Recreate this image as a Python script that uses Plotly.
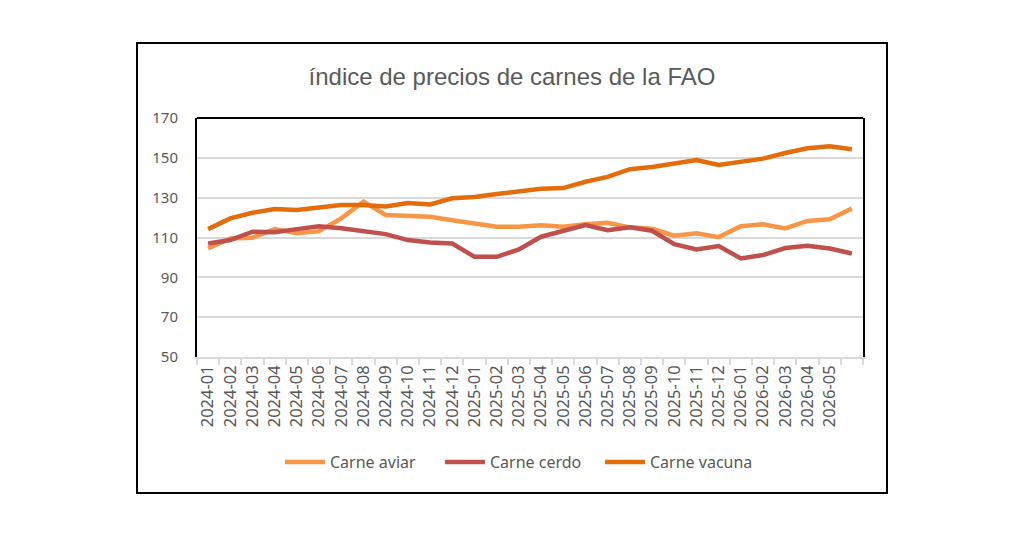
import plotly.graph_objects as go

months = ["2024-01","2024-02","2024-03","2024-04","2024-05","2024-06","2024-07","2024-08","2024-09","2024-10",
          "2024-11","2024-12","2025-01","2025-02","2025-03","2025-04","2025-05","2025-06","2025-07","2025-08",
          "2025-09","2025-10","2025-11","2025-12","2026-01","2026-02","2026-03","2026-04","2026-05","2026-06"]
tick_labels = months[:29]

carne_aviar = [104.5, 109.5, 109.9, 114.2, 112.1, 113.2, 119.6, 128.0, 121.3, 121.1,
               120.4, 118.7, 117.1, 115.4, 115.4, 116.2, 115.4, 116.7, 117.4, 115.1,
               114.4, 110.9, 112.1, 110.2, 115.7, 116.6, 114.6, 118.3, 119.2, 124.6]
carne_cerdo = [107.0, 108.7, 112.9, 112.6, 114.2, 115.7, 114.6, 112.9, 111.7, 108.7,
               107.5, 107.0, 100.3, 100.3, 104.0, 110.4, 113.4, 116.2, 113.7, 115.1,
               113.4, 106.7, 104.0, 105.7, 99.5, 101.2, 104.7, 105.8, 104.5, 102.0]
carne_vacuna = [114.2, 119.6, 122.4, 124.3, 123.8, 124.9, 126.3, 126.3, 125.6, 127.3,
                126.6, 129.7, 130.3, 131.8, 133.3, 134.5, 134.8, 138.0, 140.4, 144.3,
                145.4, 147.1, 148.9, 146.4, 147.9, 149.6, 152.4, 154.8, 155.8, 154.3]

series = [("Carne aviar", carne_aviar, "#F79646"),
          ("Carne cerdo", carne_cerdo, "#C0504D"),
          ("Carne vacuna", carne_vacuna, "#E46C0A")]

x = list(range(len(months)))
fig = go.Figure()
for name, vals, col in series:
    fig.add_trace(go.Scatter(x=x, y=vals, name=name, mode="lines",
                             line=dict(color=col, width=4.5), customdata=months,
                             hovertemplate="%{customdata}: %{y}<extra>" + name + "</extra>"))

fig.update_layout(
    width=1024, height=535,
    paper_bgcolor="white", plot_bgcolor="white",
    margin=dict(l=197, r=161, t=118, b=178),
    title=dict(text="índice de precios de carnes de la FAO", x=0.5, xref="container", xanchor="center",
               y=1 - 77/535, yref="container", yanchor="middle",
               font=dict(family="Liberation Sans Narrow, Arial Narrow, Liberation Sans", size=24, color="#595959")),
    font=dict(family="Noto Sans, Open Sans, sans-serif", color="#595959"),
    showlegend=True,
    legend=dict(orientation="h", x=0.485, xanchor="center", y=-0.44, yanchor="middle",
                font=dict(size=16, color="#595959"), itemwidth=40, bgcolor="rgba(0,0,0,0)",
                entrywidth=105, entrywidthmode="pixels"),
    xaxis=dict(range=[-0.5, 29.5], tickmode="array", tickvals=list(range(29)), ticktext=tick_labels,
               tickangle=-90, tickfont=dict(size=16.5, color="#595959"), ticks="", showgrid=False,
               showline=True, linecolor="#d9d9d9", linewidth=1.5, zeroline=False,
               minor=dict(tick0=-0.5, dtick=1, ticks="outside", ticklen=6, tickcolor="#d9d9d9",
                          tickwidth=1.5, showgrid=False)),
    yaxis=dict(range=[50, 170], tickmode="array", tickvals=[50, 70, 90, 110, 130, 150, 170],
               tickfont=dict(size=15, color="#595959"), showgrid=True, gridcolor="#d9d9d9", gridwidth=1.5,
               showline=True, linecolor="black", linewidth=2, mirror=True, zeroline=False,
               ticks="", ticklabelstandoff=14),
    shapes=[
        dict(type="line", xref="paper", yref="paper", x0=0, x1=1, y0=1, y1=1,
             line=dict(color="black", width=2)),
        dict(type="rect", xref="paper", yref="paper",
             x0=(137-197)/666, x1=(887-197)/666, y0=(357-493)/239, y1=(357-43)/239,
             line=dict(color="black", width=2), layer="below"),
    ],
)

fig.write_html("out.html", config={"displayModeBar": False},
               post_script="document.body.style.margin='0px';")
